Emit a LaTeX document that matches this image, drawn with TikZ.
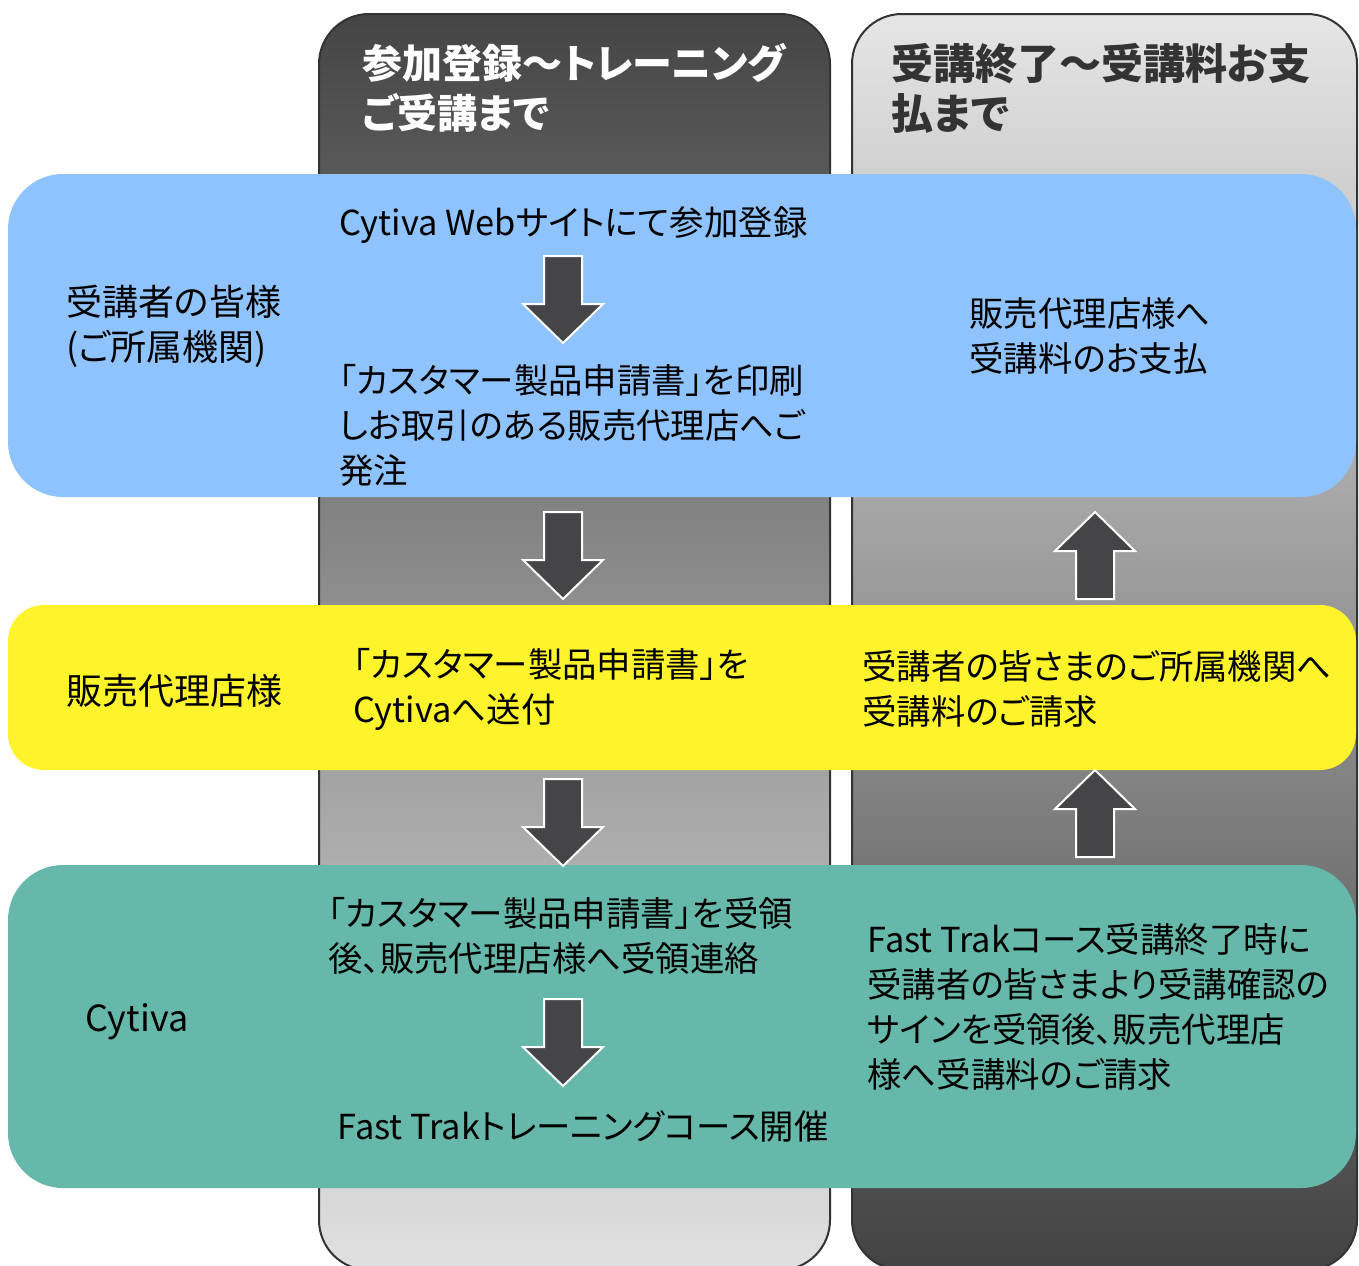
\documentclass[tikz,border=0pt]{standalone}
\usepackage{fontspec}
\setmainfont{Noto Sans CJK JP}[RawFeature=+palt]
\usetikzlibrary{positioning}
\definecolor{bandblue}{HTML}{8FC3FD}
\definecolor{bandyellow}{HTML}{FFF32C}
\definecolor{bandteal}{HTML}{66B9AA}
\definecolor{arrowgray}{HTML}{454547}
\definecolor{rimgray}{HTML}{333333}

\begin{document}
\begin{tikzpicture}[x=0.5pt,y=-0.5pt,
    txt/.style={anchor=west,align=left,inner sep=0pt,font=\fontsize{17.2}{22.5}\selectfont},
    lbl/.style={txt,font=\fontsize{18}{22.5}\selectfont},
    head/.style={anchor=west,align=left,inner sep=0pt,font=\fontsize{21}{25}\selectfont\bfseries}]
    \useasboundingbox (0,0) rectangle (1359,1265);
    % two columns
    \shade [rounded corners=25pt,top color=black!73,middle color=black!37,bottom color=black!12] (319,14) rectangle (830,1270);
    \draw [rimgray,line width=1pt,rounded corners=25pt] (319,14) rectangle (830,1270);
    \shade [rounded corners=25pt,top color=black!10,middle color=black!38,bottom color=black!74] (852,14) rectangle (1357,1270);
    \draw [rimgray,line width=1pt,rounded corners=25pt] (852,14) rectangle (1357,1270);
    % bands
    \fill [bandblue,rounded corners=27.5pt] (8,174) rectangle (1356,497);
    \fill [bandyellow,rounded corners=18pt] (8,605) rectangle (1356,770);
    \fill [bandteal,rounded corners=27.5pt] (8,865) rectangle (1356,1188);
    % block arrows
    \foreach \t in {256,512,779,999}
    \draw [white,line width=1pt,fill=arrowgray] (544,\t) -- (582,\t) -- (582,\t+48) -- (603,\t+48) -- (563,\t+87) -- (523,\t+48) -- (544,\t+48) -- cycle;
    \foreach \t in {512,770}
    \draw [white,line width=1pt,fill=arrowgray] (1095,\t) -- (1135,\t+39) -- (1114,\t+39) -- (1114,\t+87) -- (1076,\t+87) -- (1076,\t+39) -- (1055,\t+39) -- cycle;
    % headings
    \node [head,white,font=\fontsize{20}{25}\selectfont\bfseries] (headL) at (362,88) {参加登録～トレーニング\\ご受講まで};
    \node [head,rimgray] (headR) at (891,88) {受講終了～受講料お支\\払まで};
    % row labels
    \node [lbl] (trainee) at (66,326) {受講者の皆様\\(ご所属機関)};
    \node [lbl] (dealer) at (66,691) {販売代理店様};
    \node [lbl] (cytiva) at (85,1022) {Cytiva};
    % steps
    \node [txt] (regist) at (339,225) {Cytiva Webサイトにて参加登録};
    \node [txt] (order) at (339,425) {「カスタマー製品申請書」を印刷\\しお取引のある販売代理店へご\\発注};
    \node [txt] (send) at (353,689) {「カスタマー製品申請書」を\\Cytivaへ送付};
    \node [txt] (receive) at (328,936) {「カスタマー製品申請書」を受領\\後、販売代理店様へ受領連絡};
    \node [txt] (course) at (337,1126) {Fast Trakトレーニングコース開催};
    \node [txt] (invoice) at (867,1007) {Fast Trakコース受講終了時に\\受講者の皆さまより受講確認の\\サインを受領後、販売代理店\\様へ受講料のご請求};
    \node [txt] (bill) at (862,689) {受講者の皆さまのご所属機関へ\\受講料のご請求};
    \node [txt] (pay) at (969,336) {販売代理店様へ\\受講料のお支払};
\end{tikzpicture}
\end{document}
